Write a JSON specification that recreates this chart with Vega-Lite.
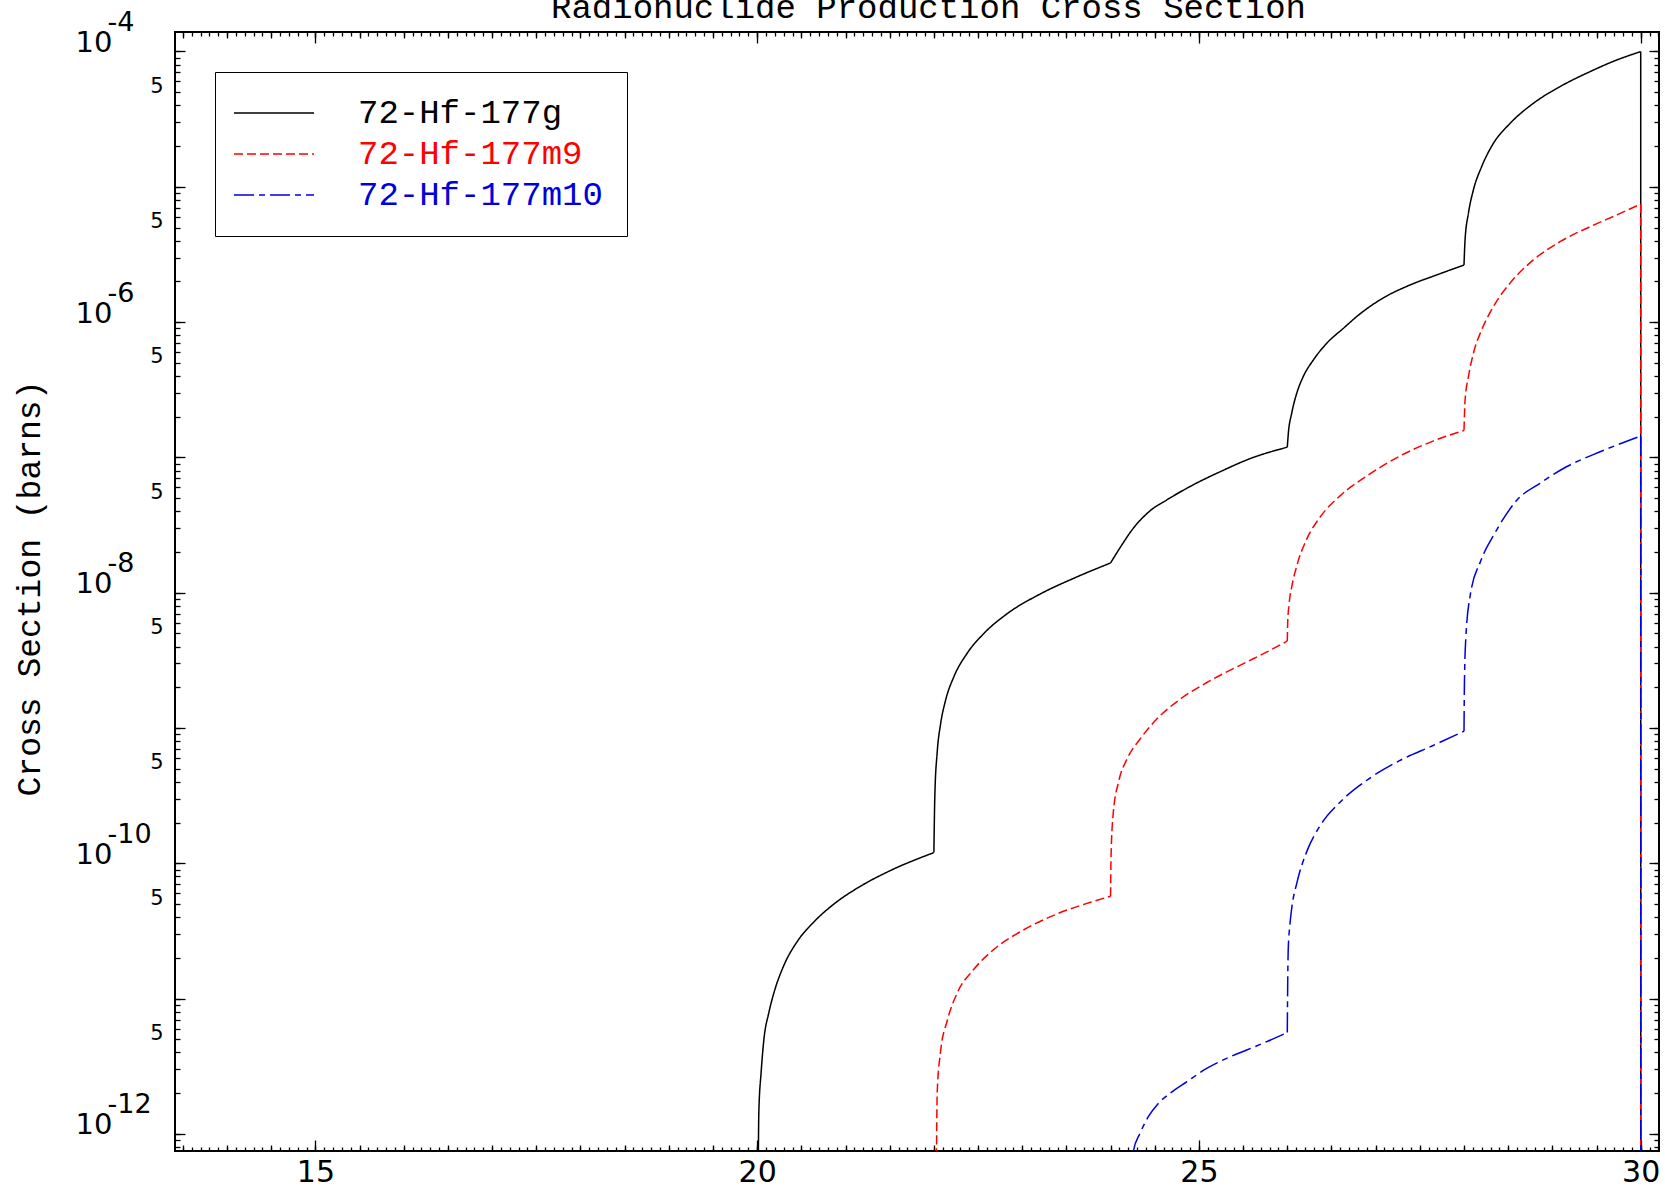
{
  "$schema": "https://vega.github.io/schema/vega-lite/v6.json",
  "width": 1484,
  "height": 1119,
  "autosize": "none",
  "padding": {"left": 175, "top": 32, "right": 6, "bottom": 44},
  "config": {
    "view": {"stroke": "black", "strokeWidth": 2},
    "axis": {
      "grid": false,
      "domain": false,
      "tickColor": "black",
      "tickWidth": 1.3,
      "labelColor": "black",
      "labelOverlap": false,
      "labelFlush": false,
      "labelBound": false,
      "labelFont": "DejaVu Sans",
      "titleFont": "Liberation Mono",
      "titleFontWeight": "normal",
      "titleColor": "black"
    }
  },
  "data": {
    "values": [
      {"iso": "72-Hf-177g", "seg": 1, "energy": 20.0, "xs": 1e-14},
      {"iso": "72-Hf-177g", "seg": 1, "energy": 20.019, "xs": 1.46e-12},
      {"iso": "72-Hf-177g", "seg": 1, "energy": 20.045, "xs": 2.86e-12},
      {"iso": "72-Hf-177g", "seg": 1, "energy": 20.075, "xs": 4.91e-12},
      {"iso": "72-Hf-177g", "seg": 1, "energy": 20.132, "xs": 7.87e-12},
      {"iso": "72-Hf-177g", "seg": 1, "energy": 20.189, "xs": 1.10e-11},
      {"iso": "72-Hf-177g", "seg": 1, "energy": 20.302, "xs": 1.76e-11},
      {"iso": "72-Hf-177g", "seg": 1, "energy": 20.453, "xs": 2.64e-11},
      {"iso": "72-Hf-177g", "seg": 1, "energy": 20.642, "xs": 3.69e-11},
      {"iso": "72-Hf-177g", "seg": 1, "energy": 20.868, "xs": 5.00e-11},
      {"iso": "72-Hf-177g", "seg": 1, "energy": 21.132, "xs": 6.55e-11},
      {"iso": "72-Hf-177g", "seg": 1, "energy": 21.509, "xs": 8.85e-11},
      {"iso": "72-Hf-177g", "seg": 1, "energy": 22.0, "xs": 1.20e-10},
      {"iso": "72-Hf-177g", "seg": 2, "energy": 22.0, "xs": 1.20e-10},
      {"iso": "72-Hf-177g", "seg": 2, "energy": 22.011, "xs": 3.18e-10},
      {"iso": "72-Hf-177g", "seg": 2, "energy": 22.038, "xs": 6.67e-10},
      {"iso": "72-Hf-177g", "seg": 2, "energy": 22.075, "xs": 1.06e-9},
      {"iso": "72-Hf-177g", "seg": 2, "energy": 22.132, "xs": 1.60e-9},
      {"iso": "72-Hf-177g", "seg": 2, "energy": 22.226, "xs": 2.39e-9},
      {"iso": "72-Hf-177g", "seg": 2, "energy": 22.377, "xs": 3.57e-9},
      {"iso": "72-Hf-177g", "seg": 2, "energy": 22.566, "xs": 5.00e-9},
      {"iso": "72-Hf-177g", "seg": 2, "energy": 22.83, "xs": 7.00e-9},
      {"iso": "72-Hf-177g", "seg": 2, "energy": 23.208, "xs": 9.82e-9},
      {"iso": "72-Hf-177g", "seg": 2, "energy": 23.585, "xs": 1.28e-8},
      {"iso": "72-Hf-177g", "seg": 2, "energy": 24.0, "xs": 1.66e-8},
      {"iso": "72-Hf-177g", "seg": 3, "energy": 24.0, "xs": 1.66e-8},
      {"iso": "72-Hf-177g", "seg": 3, "energy": 24.107, "xs": 2.15e-8},
      {"iso": "72-Hf-177g", "seg": 3, "energy": 24.258, "xs": 3.00e-8},
      {"iso": "72-Hf-177g", "seg": 3, "energy": 24.447, "xs": 4.03e-8},
      {"iso": "72-Hf-177g", "seg": 3, "energy": 24.636, "xs": 4.85e-8},
      {"iso": "72-Hf-177g", "seg": 3, "energy": 24.937, "xs": 6.28e-8},
      {"iso": "72-Hf-177g", "seg": 3, "energy": 25.239, "xs": 7.83e-8},
      {"iso": "72-Hf-177g", "seg": 3, "energy": 25.578, "xs": 9.79e-8},
      {"iso": "72-Hf-177g", "seg": 3, "energy": 26.0, "xs": 1.19e-7},
      {"iso": "72-Hf-177g", "seg": 4, "energy": 26.0, "xs": 1.19e-7},
      {"iso": "72-Hf-177g", "seg": 4, "energy": 26.012, "xs": 1.51e-7},
      {"iso": "72-Hf-177g", "seg": 4, "energy": 26.05, "xs": 2.12e-7},
      {"iso": "72-Hf-177g", "seg": 4, "energy": 26.107, "xs": 2.98e-7},
      {"iso": "72-Hf-177g", "seg": 4, "energy": 26.18, "xs": 3.95e-7},
      {"iso": "72-Hf-177g", "seg": 4, "energy": 26.295, "xs": 5.25e-7},
      {"iso": "72-Hf-177g", "seg": 4, "energy": 26.446, "xs": 6.97e-7},
      {"iso": "72-Hf-177g", "seg": 4, "energy": 26.635, "xs": 9.00e-7},
      {"iso": "72-Hf-177g", "seg": 4, "energy": 26.823, "xs": 1.15e-6},
      {"iso": "72-Hf-177g", "seg": 4, "energy": 27.087, "xs": 1.51e-6},
      {"iso": "72-Hf-177g", "seg": 4, "energy": 27.389, "xs": 1.88e-6},
      {"iso": "72-Hf-177g", "seg": 4, "energy": 27.69, "xs": 2.23e-6},
      {"iso": "72-Hf-177g", "seg": 4, "energy": 28.0, "xs": 2.64e-6},
      {"iso": "72-Hf-177g", "seg": 5, "energy": 28.0, "xs": 2.64e-6},
      {"iso": "72-Hf-177g", "seg": 5, "energy": 28.012, "xs": 4.05e-6},
      {"iso": "72-Hf-177g", "seg": 5, "energy": 28.05, "xs": 6.37e-6},
      {"iso": "72-Hf-177g", "seg": 5, "energy": 28.106, "xs": 9.46e-6},
      {"iso": "72-Hf-177g", "seg": 5, "energy": 28.2, "xs": 1.41e-5},
      {"iso": "72-Hf-177g", "seg": 5, "energy": 28.332, "xs": 2.09e-5},
      {"iso": "72-Hf-177g", "seg": 5, "energy": 28.521, "xs": 2.94e-5},
      {"iso": "72-Hf-177g", "seg": 5, "energy": 28.785, "xs": 4.14e-5},
      {"iso": "72-Hf-177g", "seg": 5, "energy": 29.087, "xs": 5.50e-5},
      {"iso": "72-Hf-177g", "seg": 5, "energy": 29.427, "xs": 7.10e-5},
      {"iso": "72-Hf-177g", "seg": 5, "energy": 29.729, "xs": 8.65e-5},
      {"iso": "72-Hf-177g", "seg": 5, "energy": 30.0, "xs": 9.98e-5},
      {"iso": "72-Hf-177g", "seg": 6, "energy": 30.0, "xs": 9.98e-5},
      {"iso": "72-Hf-177g", "seg": 6, "energy": 30.001, "xs": 1e-14},
      {"iso": "72-Hf-177m9", "seg": 1, "energy": 22.015, "xs": 1e-14},
      {"iso": "72-Hf-177m9", "seg": 1, "energy": 22.038, "xs": 2.05e-12},
      {"iso": "72-Hf-177m9", "seg": 1, "energy": 22.075, "xs": 4.02e-12},
      {"iso": "72-Hf-177m9", "seg": 1, "energy": 22.151, "xs": 6.87e-12},
      {"iso": "72-Hf-177m9", "seg": 1, "energy": 22.264, "xs": 1.10e-11},
      {"iso": "72-Hf-177m9", "seg": 1, "energy": 22.453, "xs": 1.65e-11},
      {"iso": "72-Hf-177m9", "seg": 1, "energy": 22.679, "xs": 2.31e-11},
      {"iso": "72-Hf-177m9", "seg": 1, "energy": 23.019, "xs": 3.23e-11},
      {"iso": "72-Hf-177m9", "seg": 1, "energy": 23.396, "xs": 4.23e-11},
      {"iso": "72-Hf-177m9", "seg": 1, "energy": 23.774, "xs": 5.16e-11},
      {"iso": "72-Hf-177m9", "seg": 1, "energy": 24.0, "xs": 5.71e-11},
      {"iso": "72-Hf-177m9", "seg": 2, "energy": 24.0, "xs": 5.71e-11},
      {"iso": "72-Hf-177m9", "seg": 2, "energy": 24.005, "xs": 1.12e-10},
      {"iso": "72-Hf-177m9", "seg": 2, "energy": 24.03, "xs": 2.34e-10},
      {"iso": "72-Hf-177m9", "seg": 2, "energy": 24.09, "xs": 3.98e-10},
      {"iso": "72-Hf-177m9", "seg": 2, "energy": 24.185, "xs": 5.89e-10},
      {"iso": "72-Hf-177m9", "seg": 2, "energy": 24.33, "xs": 8.22e-10},
      {"iso": "72-Hf-177m9", "seg": 2, "energy": 24.52, "xs": 1.16e-9},
      {"iso": "72-Hf-177m9", "seg": 2, "energy": 24.78, "xs": 1.62e-9},
      {"iso": "72-Hf-177m9", "seg": 2, "energy": 25.09, "xs": 2.17e-9},
      {"iso": "72-Hf-177m9", "seg": 2, "energy": 25.47, "xs": 2.92e-9},
      {"iso": "72-Hf-177m9", "seg": 2, "energy": 25.77, "xs": 3.65e-9},
      {"iso": "72-Hf-177m9", "seg": 2, "energy": 26.0, "xs": 4.39e-9},
      {"iso": "72-Hf-177m9", "seg": 3, "energy": 26.0, "xs": 4.39e-9},
      {"iso": "72-Hf-177m9", "seg": 3, "energy": 26.005, "xs": 6.12e-9},
      {"iso": "72-Hf-177m9", "seg": 3, "energy": 26.02, "xs": 8.22e-9},
      {"iso": "72-Hf-177m9", "seg": 3, "energy": 26.05, "xs": 1.10e-8},
      {"iso": "72-Hf-177m9", "seg": 3, "energy": 26.11, "xs": 1.60e-8},
      {"iso": "72-Hf-177m9", "seg": 3, "energy": 26.22, "xs": 2.49e-8},
      {"iso": "72-Hf-177m9", "seg": 3, "energy": 26.37, "xs": 3.61e-8},
      {"iso": "72-Hf-177m9", "seg": 3, "energy": 26.6, "xs": 5.22e-8},
      {"iso": "72-Hf-177m9", "seg": 3, "energy": 26.9, "xs": 7.28e-8},
      {"iso": "72-Hf-177m9", "seg": 3, "energy": 27.27, "xs": 1.02e-7},
      {"iso": "72-Hf-177m9", "seg": 3, "energy": 27.65, "xs": 1.32e-7},
      {"iso": "72-Hf-177m9", "seg": 3, "energy": 28.0, "xs": 1.58e-7},
      {"iso": "72-Hf-177m9", "seg": 4, "energy": 28.0, "xs": 1.58e-7},
      {"iso": "72-Hf-177m9", "seg": 4, "energy": 28.012, "xs": 2.65e-7},
      {"iso": "72-Hf-177m9", "seg": 4, "energy": 28.05, "xs": 3.94e-7},
      {"iso": "72-Hf-177m9", "seg": 4, "energy": 28.106, "xs": 5.87e-7},
      {"iso": "72-Hf-177m9", "seg": 4, "energy": 28.2, "xs": 8.75e-7},
      {"iso": "72-Hf-177m9", "seg": 4, "energy": 28.332, "xs": 1.30e-6},
      {"iso": "72-Hf-177m9", "seg": 4, "energy": 28.521, "xs": 1.94e-6},
      {"iso": "72-Hf-177m9", "seg": 4, "energy": 28.785, "xs": 2.88e-6},
      {"iso": "72-Hf-177m9", "seg": 4, "energy": 29.087, "xs": 3.93e-6},
      {"iso": "72-Hf-177m9", "seg": 4, "energy": 29.427, "xs": 5.07e-6},
      {"iso": "72-Hf-177m9", "seg": 4, "energy": 29.729, "xs": 6.19e-6},
      {"iso": "72-Hf-177m9", "seg": 4, "energy": 30.0, "xs": 7.46e-6},
      {"iso": "72-Hf-177m9", "seg": 5, "energy": 30.0, "xs": 7.46e-6},
      {"iso": "72-Hf-177m9", "seg": 5, "energy": 30.001, "xs": 1e-14},
      {"iso": "72-Hf-177m10", "seg": 1, "energy": 24.25, "xs": 1e-14},
      {"iso": "72-Hf-177m10", "seg": 1, "energy": 24.257, "xs": 7.4e-13},
      {"iso": "72-Hf-177m10", "seg": 1, "energy": 24.333, "xs": 1.01e-12},
      {"iso": "72-Hf-177m10", "seg": 1, "energy": 24.427, "xs": 1.34e-12},
      {"iso": "72-Hf-177m10", "seg": 1, "energy": 24.54, "xs": 1.68e-12},
      {"iso": "72-Hf-177m10", "seg": 1, "energy": 24.673, "xs": 2.00e-12},
      {"iso": "72-Hf-177m10", "seg": 1, "energy": 24.861, "xs": 2.43e-12},
      {"iso": "72-Hf-177m10", "seg": 1, "energy": 25.088, "xs": 3.05e-12},
      {"iso": "72-Hf-177m10", "seg": 1, "energy": 25.314, "xs": 3.62e-12},
      {"iso": "72-Hf-177m10", "seg": 1, "energy": 25.54, "xs": 4.17e-12},
      {"iso": "72-Hf-177m10", "seg": 1, "energy": 25.767, "xs": 4.81e-12},
      {"iso": "72-Hf-177m10", "seg": 1, "energy": 26.0, "xs": 5.62e-12},
      {"iso": "72-Hf-177m10", "seg": 2, "energy": 26.0, "xs": 5.62e-12},
      {"iso": "72-Hf-177m10", "seg": 2, "energy": 26.003, "xs": 1.00e-11},
      {"iso": "72-Hf-177m10", "seg": 2, "energy": 26.01, "xs": 2.24e-11},
      {"iso": "72-Hf-177m10", "seg": 2, "energy": 26.03, "xs": 3.55e-11},
      {"iso": "72-Hf-177m10", "seg": 2, "energy": 26.05, "xs": 4.65e-11},
      {"iso": "72-Hf-177m10", "seg": 2, "energy": 26.11, "xs": 7.24e-11},
      {"iso": "72-Hf-177m10", "seg": 2, "energy": 26.22, "xs": 1.22e-10},
      {"iso": "72-Hf-177m10", "seg": 2, "energy": 26.37, "xs": 1.89e-10},
      {"iso": "72-Hf-177m10", "seg": 2, "energy": 26.6, "xs": 2.84e-10},
      {"iso": "72-Hf-177m10", "seg": 2, "energy": 26.9, "xs": 4.11e-10},
      {"iso": "72-Hf-177m10", "seg": 2, "energy": 27.27, "xs": 5.74e-10},
      {"iso": "72-Hf-177m10", "seg": 2, "energy": 27.65, "xs": 7.43e-10},
      {"iso": "72-Hf-177m10", "seg": 2, "energy": 28.0, "xs": 9.48e-10},
      {"iso": "72-Hf-177m10", "seg": 3, "energy": 28.0, "xs": 9.48e-10},
      {"iso": "72-Hf-177m10", "seg": 3, "energy": 28.005, "xs": 2.17e-9},
      {"iso": "72-Hf-177m10", "seg": 3, "energy": 28.02, "xs": 4.55e-9},
      {"iso": "72-Hf-177m10", "seg": 3, "energy": 28.07, "xs": 9.53e-9},
      {"iso": "72-Hf-177m10", "seg": 3, "energy": 28.19, "xs": 1.72e-8},
      {"iso": "72-Hf-177m10", "seg": 3, "energy": 28.34, "xs": 2.69e-8},
      {"iso": "72-Hf-177m10", "seg": 3, "energy": 28.41, "xs": 3.23e-8},
      {"iso": "72-Hf-177m10", "seg": 3, "energy": 28.6, "xs": 4.84e-8},
      {"iso": "72-Hf-177m10", "seg": 3, "energy": 28.86, "xs": 6.44e-8},
      {"iso": "72-Hf-177m10", "seg": 3, "energy": 29.16, "xs": 8.53e-8},
      {"iso": "72-Hf-177m10", "seg": 3, "energy": 29.54, "xs": 1.10e-7},
      {"iso": "72-Hf-177m10", "seg": 3, "energy": 30.0, "xs": 1.44e-7},
      {"iso": "72-Hf-177m10", "seg": 4, "energy": 30.0, "xs": 1.44e-7},
      {"iso": "72-Hf-177m10", "seg": 4, "energy": 30.001, "xs": 1e-14}
    ]
  },
  "resolve": {"axis": {"x": "independent", "y": "independent"}},
  "layer": [
    {
      "mark": {"type": "line", "clip": true, "strokeWidth": 1.5, "interpolate": "monotone"},
      "encoding": {
        "x": {
          "field": "energy",
          "type": "quantitative",
          "scale": {"domain": [13.411, 30.207], "nice": false, "zero": false},
          "axis": {
            "orient": "bottom",
            "values": [15, 20, 25, 30],
            "tickSize": -11,
            "labelFontSize": 30,
            "labelPadding": 17,
            "title": null
          }
        },
        "y": {
          "field": "xs",
          "type": "quantitative",
          "scale": {"type": "log", "domain": [7.48e-13, 1.393e-4], "nice": false},
          "axis": {
            "orient": "left",
            "values": [1e-4, 1e-5, 1e-6, 1e-7, 1e-8, 1e-9, 1e-10, 1e-11, 1e-12],
            "tickSize": -10,
            "labelExpr": "round(log(datum.value) / LN10) % 2 == 0 ? '10' : ''",
            "labelFontSize": 29,
            "labelBaseline": "alphabetic",
            "labelAlign": "right",
            "labelPadding": 73,
            "title": "Cross Section (barns)",
            "titleFontSize": 33,
            "titleAngle": -90,
            "titleAlign": "center",
            "titleBaseline": "middle",
            "titleX": -146,
            "titleY": 556
          }
        },
        "detail": {"field": "seg", "type": "nominal"},
        "color": {
          "field": "iso",
          "type": "nominal",
          "scale": {
            "domain": ["72-Hf-177g", "72-Hf-177m9", "72-Hf-177m10"],
            "range": ["#000000", "#ff0000", "#0000dd"]
          },
          "legend": {
            "orient": "none",
            "legendX": 40,
            "legendY": 40,
            "title": null,
            "symbolType": "M-4,0H4",
            "symbolSize": 400,
            "symbolStrokeWidth": 1.5,
            "symbolOffset": 18,
            "labelFont": "Liberation Mono",
            "labelFontSize": 34,
            "labelOffset": 67,
            "labelLimit": 600,
            "padding": 24,
            "rowPadding": 7,
            "strokeColor": "black",
            "fillColor": "white",
            "encode": {"labels": {"update": {"fill": {"scale": "color", "field": "value"}}}}
          }
        },
        "strokeDash": {
          "field": "iso",
          "type": "nominal",
          "scale": {
            "domain": ["72-Hf-177g", "72-Hf-177m9", "72-Hf-177m10"],
            "range": [[1, 0], [9, 4], [20, 5, 6, 5]]
          },
          "legend": {
            "orient": "none",
            "legendX": 40,
            "legendY": 40,
            "title": null,
            "symbolType": "M-4,0H4",
            "symbolSize": 400,
            "symbolStrokeWidth": 1.5,
            "symbolOffset": 18,
            "labelFont": "Liberation Mono",
            "labelFontSize": 34,
            "labelOffset": 67,
            "labelLimit": 600,
            "padding": 24,
            "rowPadding": 7,
            "strokeColor": "black",
            "fillColor": "white",
            "encode": {"labels": {"update": {"fill": {"scale": "color", "field": "value"}}}}
          }
        }
      }
    },
    {
      "mark": {"type": "point", "opacity": 0, "size": 0, "clip": true},
      "encoding": {
        "x": {
          "field": "energy",
          "type": "quantitative",
          "scale": {"domain": [13.411, 30.207], "nice": false, "zero": false},
          "axis": {"orient": "bottom", "tickCount": 168, "tickSize": -4, "labels": false, "title": null}
        },
        "y": {
          "field": "xs",
          "type": "quantitative",
          "scale": {"type": "log", "domain": [7.48e-13, 1.393e-4], "nice": false},
          "axis": {
            "orient": "left",
            "values": [1e-4, 1e-6, 1e-8, 1e-10, 1e-12],
            "ticks": false,
            "labelExpr": "'-' + (-round(log(datum.value) / LN10))",
            "labelFontSize": 27,
            "labelBaseline": "alphabetic",
            "labelAlign": "left",
            "labelPadding": 68,
            "labelOffset": -21,
            "title": null
          }
        }
      }
    },
    {
      "mark": {"type": "point", "opacity": 0, "size": 0, "clip": true},
      "encoding": {
        "x": {
          "field": "energy",
          "type": "quantitative",
          "scale": {"domain": [13.411, 30.207], "nice": false, "zero": false},
          "axis": {"orient": "bottom", "tickCount": 34, "tickSize": -6, "labels": false, "title": null}
        },
        "y": {
          "field": "xs",
          "type": "quantitative",
          "scale": {"type": "log", "domain": [7.48e-13, 1.393e-4], "nice": false},
          "axis": {
            "orient": "left",
            "tickCount": 30,
            "tickSize": -5,
            "labelExpr": "abs(datum.value / pow(10, floor(log(datum.value) / LN10 + 1e-6)) - 5) < 0.01 ? '5' : ''",
            "labelFontSize": 21,
            "labelBaseline": "alphabetic",
            "labelAlign": "right",
            "labelPadding": 17,
            "title": null
          }
        }
      }
    },
    {
      "mark": {"type": "point", "opacity": 0, "size": 0, "clip": true},
      "encoding": {
        "x": {
          "field": "energy",
          "type": "quantitative",
          "scale": {"domain": [13.411, 30.207], "nice": false, "zero": false},
          "axis": {
            "orient": "top",
            "values": [15, 20, 25, 30],
            "tickSize": -11,
            "labels": false,
            "title": "Radionuclide Production Cross Section",
            "titleFontSize": 34,
            "titleAngle": 0,
            "titleAlign": "center",
            "titleBaseline": "alphabetic",
            "titleX": 753,
            "titleY": -15
          }
        },
        "y": {
          "field": "xs",
          "type": "quantitative",
          "scale": {"type": "log", "domain": [7.48e-13, 1.393e-4], "nice": false},
          "axis": {
            "orient": "right",
            "values": [1e-4, 1e-5, 1e-6, 1e-7, 1e-8, 1e-9, 1e-10, 1e-11, 1e-12],
            "tickSize": -10,
            "labels": false,
            "title": null
          }
        }
      }
    },
    {
      "mark": {"type": "point", "opacity": 0, "size": 0, "clip": true},
      "encoding": {
        "x": {
          "field": "energy",
          "type": "quantitative",
          "scale": {"domain": [13.411, 30.207], "nice": false, "zero": false},
          "axis": {"orient": "top", "tickCount": 168, "tickSize": -4, "labels": false, "title": null}
        },
        "y": {
          "field": "xs",
          "type": "quantitative",
          "scale": {"type": "log", "domain": [7.48e-13, 1.393e-4], "nice": false},
          "axis": {"orient": "right", "tickCount": 30, "tickSize": -5, "labels": false, "title": null}
        }
      }
    },
    {
      "mark": {"type": "point", "opacity": 0, "size": 0, "clip": true},
      "encoding": {
        "x": {
          "field": "energy",
          "type": "quantitative",
          "scale": {"domain": [13.411, 30.207], "nice": false, "zero": false},
          "axis": {"orient": "top", "tickCount": 34, "tickSize": -6, "labels": false, "title": null}
        },
        "y": {
          "field": "xs",
          "type": "quantitative",
          "scale": {"type": "log", "domain": [7.48e-13, 1.393e-4], "nice": false},
          "axis": null
        }
      }
    }
  ]
}
